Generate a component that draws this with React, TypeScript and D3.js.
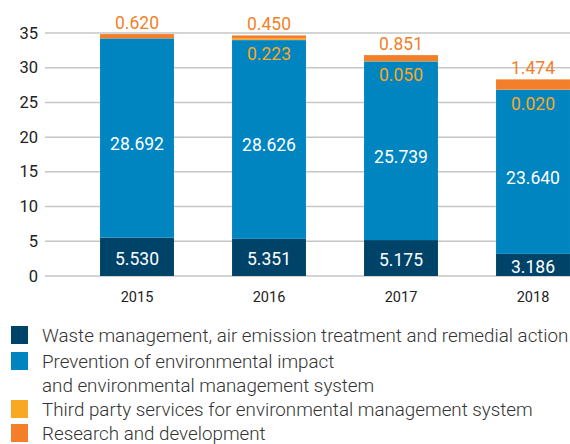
import React, { useEffect, useRef } from 'react';
import * as d3 from 'd3';

const years = ['2015', '2016', '2017', '2018'];
const waste = [5.53, 5.351, 5.175, 3.186];
const prevention = [28.692, 28.626, 25.739, 23.64];
const thirdParty = [0, 0.223, 0.05, 0.02];
const research = [0.62, 0.45, 0.851, 1.474];
const yTicks = [0, 5, 10, 15, 20, 25, 30, 35];

const seriesNames = [
  'Waste management, air emission treatment and remedial action',
  'Prevention of environmental impact\nand environmental management system',
  'Third party services for environmental management system',
  'Research and development',
];
const colors = ['#004369', '#0085c1', '#f8a823', '#f37f2a'];

const W = 570;
const H = 444;

function App() {
  const ref = useRef<SVGSVGElement>(null);

  useEffect(() => {
    const svg = d3.select(ref.current);
    svg.selectAll('*').remove();

    const rows = years.map((y, i) => ({
      year: y,
      waste: waste[i],
      prevention: prevention[i],
      third: thirdParty[i],
      research: research[i],
    }));
    const keys = ['waste', 'prevention', 'third', 'research'];
    const stacked = d3.stack<any>().keys(keys)(rows);

    const y = d3.scaleLinear().domain([0, 35]).range([276, 33]);
    const x = d3
      .scaleBand()
      .domain(years)
      .range([71, 599])
      .paddingInner(0.44)
      .paddingOuter(0.22);

    // grid
    svg
      .append('g')
      .selectAll('line')
      .data(yTicks)
      .enter()
      .append('line')
      .attr('x1', 45)
      .attr('x2', W)
      .attr('y1', (d) => y(d))
      .attr('y2', (d) => y(d))
      .attr('stroke', '#c6c6c6')
      .attr('stroke-width', 1.5);

    svg
      .append('g')
      .selectAll('text')
      .data(yTicks)
      .enter()
      .append('text')
      .attr('x', 38)
      .attr('y', (d) => y(d))
      .attr('text-anchor', 'end')
      .attr('dominant-baseline', 'central')
      .attr('font-size', 16.5)
      .attr('fill', '#222')
      .text((d) => d);

    // bars
    stacked.forEach((layer, li) => {
      svg
        .append('g')
        .selectAll('rect')
        .data(layer)
        .enter()
        .append('rect')
        .attr('x', (d: any) => x(d.data.year)!)
        .attr('width', x.bandwidth())
        .attr('y', (d) => y(d[1]))
        .attr('height', (d) => y(d[0]) - y(d[1]))
        .attr('fill', colors[li]);
    });

    const labels = svg
      .append('g')
      .attr('font-size', 17.5)
      .attr('text-anchor', 'middle')
      .attr('dominant-baseline', 'central');
    const fmt = d3.format('.3f');

    // waste + prevention labels (white, centred)
    [0, 1].forEach((li) => {
      labels
        .selectAll(null)
        .data(stacked[li])
        .enter()
        .append('text')
        .attr('x', (d: any) => x(d.data.year)! + x.bandwidth() / 2)
        .attr('y', (d) => (y(d[0]) + y(d[1])) / 2 + (li === 1 ? 6 : 2))
        .attr('fill', '#fff')
        .text((d) => fmt(d[1] - d[0]));
    });

    // third party labels inside top of blue
    labels
      .selectAll(null)
      .data(stacked[2].filter((d) => d[1] - d[0] > 0))
      .enter()
      .append('text')
      .attr('x', (d: any) => x(d.data.year)! + x.bandwidth() / 2)
      .attr('y', (d) => y(d[0]) + 14)
      .attr('fill', colors[2])
      .text((d) => fmt(d[1] - d[0]));

    // research labels above bar
    labels
      .selectAll(null)
      .data(stacked[3])
      .enter()
      .append('text')
      .attr('x', (d: any) => x(d.data.year)! + x.bandwidth() / 2)
      .attr('y', (d) => y(d[1]) - 11)
      .attr('fill', colors[3])
      .text((d) => fmt(d[1] - d[0]));

    // year labels
    svg
      .append('g')
      .selectAll('text')
      .data(years)
      .enter()
      .append('text')
      .attr('x', (d) => x(d)! + x.bandwidth() / 2)
      .attr('y', 297)
      .attr('text-anchor', 'middle')
      .attr('dominant-baseline', 'central')
      .attr('font-size', 14.5)
      .attr('fill', '#222')
      .text((d) => d);

    // legend
    const legendRows = [326, 352, 400, 424];
    const legend = svg.append('g');
    seriesNames.forEach((name, i) => {
      const top = legendRows[i];
      legend
        .append('rect')
        .attr('x', 11)
        .attr('y', top)
        .attr('width', 17)
        .attr('height', 18)
        .attr('fill', colors[i]);
      name.split('\n').forEach((line, j) => {
        legend
          .append('text')
          .attr('x', 42)
          .attr('y', top + 10 + j * 23.5)
          .attr('dominant-baseline', 'central')
          .attr('font-size', 18.8)
          .attr('font-weight', 300)
          .attr('fill', '#333')
          .text(line);
      });
    });
  }, []);

  return (
    <svg
      ref={ref}
      width={W}
      height={H}
      style={{ position: 'absolute', left: 0, top: 0, fontFamily: 'Roboto, sans-serif', background: '#fff' }}
    />
  );
}

export default App;
